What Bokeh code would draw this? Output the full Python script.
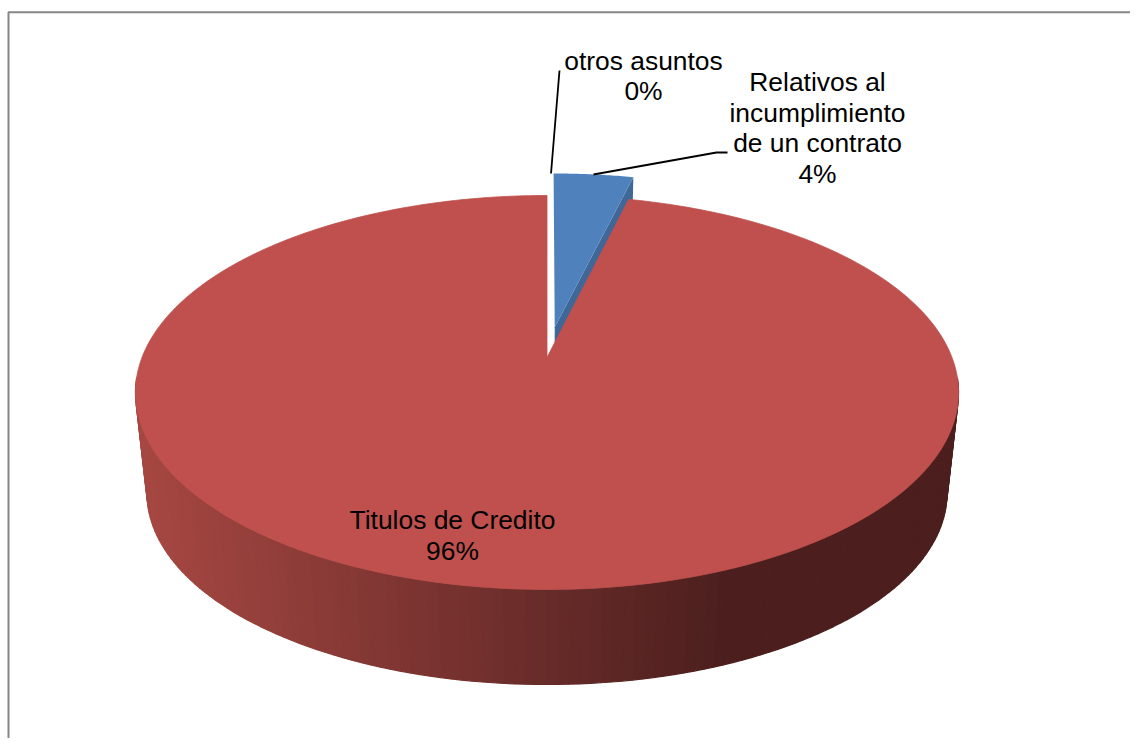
from math import sin, cos, radians
from bokeh.plotting import figure
from bokeh.models import Range1d
from bokeh.core.properties import value
from bokeh.embed import file_html
from bokeh.resources import INLINE

# ---- data ----
categories = ["Relativos al incumplimiento de un contrato", "Titulos de Credito", "otros asuntos"]
shares = [3.8, 96.2, 0.0]
label_lines = [["Relativos al", "incumplimiento", "de un contrato"], ["Titulos de Credito"], ["otros asuntos"]]

# ---- geometry of the 3D pie, in pixels ----
CX, Y0, A, B, K = 546.5, 357.0, 405.0, 190.8, 0.1776
VANISH_Y, BOTTOM_SCALE = 3982.0, 0.972
EXPLODE = 0.165
RED, BLUE, BLUE_DARK = "#BF504D", "#4F81BD", "#3F6797"
GRAD_L, GRAD_R = (166, 71, 66), (76, 31, 30)
GRAD_X0, GRAD_X1 = 140.0, 725.0

def top_point(theta, du=0.0, dv=0.0):
    u = sin(radians(theta)) + du
    v = cos(radians(theta)) + dv
    d = 1 + K * v
    return CX + A * u / d, Y0 - B * v / d

def hub_point(du, dv):
    d = 1 + K * dv
    return CX + A * du / d, Y0 - B * dv / d

def to_bottom(pt):
    return CX + (pt[0] - CX) * BOTTOM_SCALE, VANISH_Y + (pt[1] - VANISH_Y) * BOTTOM_SCALE

def side_color(x):
    t = max(0.0, min(1.0, (x - GRAD_X0) / (GRAD_X1 - GRAD_X0)))
    rgb = [round(GRAD_L[i] + (GRAD_R[i] - GRAD_L[i]) * t) for i in range(3)]
    return "#%02x%02x%02x" % tuple(rgb)

p = figure(width=1130, height=738, output_backend="svg", toolbar_location=None,
           x_range=Range1d(0, 1130), y_range=Range1d(738, 0), min_border=0,
           background_fill_color="white", border_fill_color="white")
p.axis.visible = False
p.grid.visible = False
p.outline_line_color = None

# chart frame
p.line([8, 8, 1130], [738, 11.7, 11.7], line_color="#868686", line_width=2)

total = sum(shares)
blue_end = 360.0 * shares[0] / total
mid = radians(blue_end / 2)
du, dv = EXPLODE * sin(mid), EXPLODE * cos(mid)

# red rim, as strips so that it can darken from left to right
steps = 130
xs, ys, cols = [], [], []
T0, T1 = 96.0, 264.0
for i in range(steps):
    t0 = T0 + (T1 - T0) * i / steps
    t1 = T0 + (T1 - T0) * (i + 1) / steps
    a, b = top_point(t0), top_point(t1)
    c, d = to_bottom(b), to_bottom(a)
    xs.append([a[0], b[0], c[0], d[0]])
    ys.append([a[1], b[1], c[1], d[1]])
    cols.append(side_color((a[0] + b[0]) / 2))
p.patches(xs, ys, fill_color=cols, line_color=cols, line_width=1.2)

# blue slice: cut face, then top
hub = hub_point(du, dv)
corner = top_point(blue_end, du, dv)
hub_b, corner_b = to_bottom(hub), to_bottom(corner)
p.patch([hub[0], corner[0], corner_b[0], hub_b[0]], [hub[1], corner[1], corner_b[1], hub_b[1]],
        fill_color=BLUE_DARK, line_color=None)

# red top
red_pts = [top_point(blue_end + (360.0 - blue_end) * i / 360) for i in range(361)]
p.patch([CX] + [q[0] for q in red_pts], [Y0] + [q[1] for q in red_pts],
        fill_color=RED, line_color=RED, line_width=0.8)

# blue top
blue_pts = [top_point(blue_end * i / 30, du, dv) for i in range(31)]
p.patch([hub[0]] + [q[0] for q in blue_pts], [hub[1]] + [q[1] for q in blue_pts],
        fill_color=BLUE, line_color=None)

# leader lines
p.line([559, 550.5], [70, 173], line_color="black", line_width=1.8)
p.line([593, 716, 727], [174, 152, 152], line_color="black", line_width=1.8)

# labels
positions = [(817, [81, 112, 142, 173]), (452, [519, 550]), (643, [60, 90])]
for lines, share, (x, bases) in zip(label_lines, shares, positions):
    texts = lines + ["%d%%" % round(share)]
    p.text([x] * len(texts), bases, text=texts, text_font=value("Liberation Sans"),
           text_font_size="26.4px", text_color="black", text_align="center",
           text_baseline="alphabetic")

open("out.html", "w").write(file_html(p, INLINE))
